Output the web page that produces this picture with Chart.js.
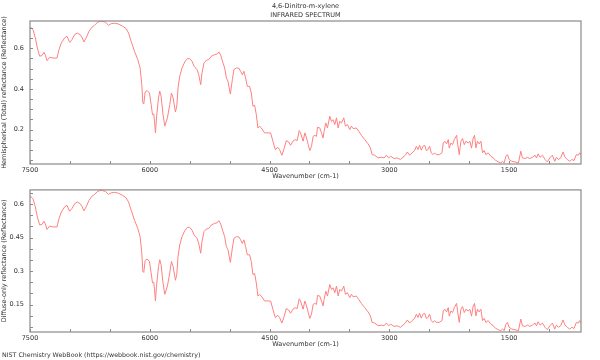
<!DOCTYPE html>
<html>
<head>
<meta charset="utf-8">
<script src="https://cdn.jsdelivr.net/npm/chart.js@4.4.1/dist/chart.umd.min.js"></script>
<style>
  html, body { margin: 0; padding: 0; background: #fff; }
  #wrap { position: relative; width: 600px; height: 360px; font-family: "DejaVu Sans", sans-serif; color: #333; }
  .box { position: absolute; left: 0; width: 600px; height: 180px; }
  .txt { position: absolute; font-size: 6.3px; line-height: 9px; white-space: nowrap; }
</style>
</head>
<body>
<div id="wrap">
  <div class="box" style="top:0"><canvas id="top-chart" width="600" height="180"></canvas></div>
  <div class="box" style="top:180px"><canvas id="bottom-chart" width="600" height="180"></canvas></div>
  <div class="txt" style="left:2px;top:350px;">NIST Chemistry WebBook (https://webbook.nist.gov/chemistry)</div>
</div>
<script>
// --- Data ---
const wavenumbers = [
  7500, 7490, 7462, 7433, 7408, 7379, 7350, 7325, 7308, 7287, 7254, 7212, 7162, 7137, 7108, 7066, 7037, 7004, 6975, 6941,
  6909, 6871, 6846, 6825, 6796, 6762, 6725, 6691, 6650, 6608, 6558, 6516, 6483, 6441, 6391, 6337, 6296, 6266, 6233, 6191,
  6150, 6121, 6100, 6087, 6075, 6058, 6033, 6004, 5983, 5966, 5950, 5941, 5929, 5916, 5891, 5875, 5858, 5837, 5812, 5779,
  5750, 5729, 5708, 5679, 5662, 5646, 5625, 5596, 5562, 5529, 5500, 5471, 5446, 5408, 5387, 5362, 5346, 5321, 5291, 5262,
  5229, 5187, 5154, 5134, 5112, 5083, 5062, 5041, 5021, 4991, 4966, 4946, 4916, 4887, 4862, 4841, 4821, 4800, 4779, 4750,
  4729, 4708, 4687, 4666, 4646, 4625, 4604, 4562, 4521, 4487, 4458, 4429, 4396, 4375, 4346, 4321, 4291, 4262, 4237, 4208,
  4179, 4154, 4129, 4112, 4080, 4058, 4037, 4016, 3996, 3975, 3954, 3933, 3912, 3900, 3871, 3850, 3829, 3817, 3796, 3775,
  3746, 3725, 3704, 3683, 3662, 3641, 3621, 3600, 3571, 3550, 3525, 3496, 3475, 3454, 3412, 3383, 3350, 3308, 3266, 3237,
  3216, 3183, 3141, 3100, 3066, 3037, 3008, 2983, 2941, 2900, 2862, 2829, 2800, 2775, 2746, 2716, 2683, 2662, 2641, 2621,
  2600, 2579, 2558, 2537, 2516, 2496, 2475, 2454, 2433, 2412, 2375, 2341, 2325, 2304, 2283, 2262, 2250, 2229, 2208, 2187,
  2158, 2146, 2125, 2104, 2083, 2062, 2041, 2012, 1991, 1971, 1950, 1933, 1916, 1896, 1875, 1854, 1833, 1812, 1791, 1762,
  1729, 1700, 1666, 1633, 1604, 1583, 1562, 1541, 1521, 1500, 1466, 1425, 1383, 1354, 1333, 1300, 1271, 1241, 1208, 1175,
  1158, 1137, 1112, 1083, 1050, 1021, 991, 958, 929, 908, 883, 854, 825, 800, 771, 741, 716, 687, 658, 633,
  616, 600
];

// Hemispherical (total) reflectance
const totalRefl = [
  0.700, 0.703, 0.691, 0.651, 0.601, 0.561, 0.564, 0.580, 0.566, 0.539, 0.556, 0.552, 0.552, 0.593, 0.626, 0.651, 0.659, 0.629, 0.642, 0.667,
  0.675, 0.667, 0.651, 0.631, 0.651, 0.683, 0.703, 0.713, 0.729, 0.733, 0.729, 0.713, 0.721, 0.723, 0.719, 0.708, 0.696, 0.675, 0.634, 0.585,
  0.544, 0.503, 0.421, 0.331, 0.326, 0.385, 0.392, 0.380, 0.323, 0.274, 0.277, 0.241, 0.184, 0.257, 0.356, 0.389, 0.364, 0.282, 0.217, 0.258,
  0.323, 0.380, 0.356, 0.287, 0.315, 0.405, 0.462, 0.503, 0.533, 0.549, 0.549, 0.536, 0.512, 0.495, 0.470, 0.421, 0.479, 0.528, 0.541, 0.544,
  0.561, 0.569, 0.572, 0.582, 0.566, 0.528, 0.503, 0.454, 0.438, 0.375, 0.446, 0.495, 0.503, 0.503, 0.487, 0.470, 0.487, 0.454, 0.413, 0.413,
  0.380, 0.315, 0.320, 0.274, 0.208, 0.217, 0.208, 0.184, 0.184, 0.184, 0.143, 0.102, 0.113, 0.102, 0.074, 0.102, 0.146, 0.140, 0.123, 0.143,
  0.151, 0.146, 0.195, 0.184, 0.143, 0.184, 0.159, 0.126, 0.097, 0.118, 0.167, 0.172, 0.167, 0.212, 0.208, 0.184, 0.159, 0.192, 0.233, 0.208,
  0.266, 0.241, 0.249, 0.225, 0.258, 0.208, 0.241, 0.233, 0.258, 0.217, 0.225, 0.200, 0.217, 0.205, 0.208, 0.192, 0.172, 0.151, 0.130, 0.110,
  0.077, 0.074, 0.061, 0.064, 0.061, 0.074, 0.061, 0.069, 0.058, 0.061, 0.053, 0.064, 0.074, 0.090, 0.074, 0.086, 0.097, 0.118, 0.102, 0.123,
  0.099, 0.118, 0.123, 0.097, 0.102, 0.118, 0.086, 0.077, 0.086, 0.077, 0.077, 0.086, 0.134, 0.143, 0.130, 0.151, 0.109, 0.134, 0.126, 0.151,
  0.172, 0.134, 0.077, 0.143, 0.156, 0.126, 0.143, 0.134, 0.143, 0.109, 0.159, 0.172, 0.110, 0.143, 0.130, 0.143, 0.086, 0.097, 0.077, 0.086,
  0.069, 0.061, 0.048, 0.041, 0.036, 0.044, 0.036, 0.069, 0.077, 0.053, 0.044, 0.041, 0.036, 0.094, 0.061, 0.058, 0.064, 0.058, 0.064, 0.074,
  0.061, 0.081, 0.064, 0.074, 0.053, 0.041, 0.061, 0.074, 0.044, 0.064, 0.053, 0.061, 0.090, 0.064, 0.053, 0.044, 0.053, 0.048, 0.077, 0.074,
  0.086, 0.075
];

// Diffuse-only reflectance
const diffuseRefl = [
  0.632, 0.635, 0.624, 0.588, 0.543, 0.507, 0.509, 0.524, 0.511, 0.487, 0.502, 0.498, 0.498, 0.535, 0.565, 0.588, 0.595, 0.568, 0.580, 0.602,
  0.610, 0.602, 0.588, 0.570, 0.588, 0.617, 0.635, 0.644, 0.658, 0.662, 0.658, 0.644, 0.651, 0.653, 0.649, 0.639, 0.628, 0.610, 0.573, 0.528,
  0.491, 0.454, 0.380, 0.299, 0.294, 0.348, 0.354, 0.343, 0.292, 0.247, 0.250, 0.218, 0.166, 0.232, 0.321, 0.351, 0.329, 0.255, 0.196, 0.233,
  0.292, 0.343, 0.321, 0.259, 0.284, 0.366, 0.417, 0.454, 0.481, 0.496, 0.496, 0.484, 0.462, 0.447, 0.424, 0.380, 0.433, 0.477, 0.489, 0.491,
  0.507, 0.514, 0.517, 0.526, 0.511, 0.477, 0.454, 0.410, 0.396, 0.339, 0.403, 0.447, 0.454, 0.454, 0.440, 0.424, 0.440, 0.410, 0.373, 0.373,
  0.343, 0.284, 0.289, 0.247, 0.188, 0.196, 0.188, 0.166, 0.166, 0.166, 0.129, 0.092, 0.102, 0.092, 0.067, 0.092, 0.132, 0.126, 0.111, 0.129,
  0.136, 0.132, 0.176, 0.166, 0.129, 0.166, 0.144, 0.114, 0.088, 0.107, 0.151, 0.155, 0.151, 0.191, 0.188, 0.166, 0.144, 0.173, 0.210, 0.188,
  0.240, 0.218, 0.225, 0.203, 0.233, 0.188, 0.218, 0.210, 0.233, 0.196, 0.203, 0.181, 0.196, 0.185, 0.188, 0.173, 0.155, 0.136, 0.117, 0.099,
  0.070, 0.067, 0.055, 0.058, 0.055, 0.067, 0.055, 0.062, 0.052, 0.055, 0.048, 0.058, 0.067, 0.081, 0.067, 0.078, 0.088, 0.107, 0.092, 0.111,
  0.089, 0.107, 0.111, 0.088, 0.092, 0.107, 0.078, 0.070, 0.078, 0.070, 0.070, 0.078, 0.121, 0.129, 0.117, 0.136, 0.098, 0.121, 0.114, 0.136,
  0.155, 0.121, 0.070, 0.129, 0.141, 0.114, 0.129, 0.121, 0.129, 0.098, 0.144, 0.155, 0.099, 0.129, 0.117, 0.129, 0.078, 0.088, 0.070, 0.078,
  0.062, 0.055, 0.043, 0.037, 0.033, 0.040, 0.033, 0.062, 0.070, 0.048, 0.040, 0.037, 0.033, 0.085, 0.055, 0.052, 0.058, 0.052, 0.058, 0.067,
  0.055, 0.073, 0.058, 0.067, 0.048, 0.037, 0.055, 0.067, 0.040, 0.058, 0.048, 0.055, 0.081, 0.058, 0.048, 0.040, 0.048, 0.043, 0.070, 0.067,
  0.078, 0.068
];

// Axis ticks
const xTicks = [7500, 7000, 6500, 6000, 5500, 5000, 4500, 4000, 3500, 3000, 2500, 2000, 1500, 1000];
const xLabels = [7500, 6000, 4500, 3000, 1500];
const yTicksTop = [0.05, 0.1, 0.15, 0.2, 0.25, 0.3, 0.35, 0.4, 0.45, 0.5, 0.55, 0.6, 0.65, 0.7];
const yLabelsTop = [0.2, 0.4, 0.6];
const yTicksBottom = [0.05, 0.1, 0.15, 0.2, 0.25, 0.3, 0.35, 0.4, 0.45, 0.5, 0.55, 0.6, 0.65];
const yLabelsBottom = [0.15, 0.3, 0.45, 0.6];
const titleLines = ['4,6-Dinitro-m-xylene', 'INFRARED SPECTRUM'];

const lineColor = '#ff8080';
const frameColor = '#8a8a8a';
const textColor = '#333';
const font = { family: 'DejaVu Sans', size: 6.5 };

// Frame + inward tick marks
const framePlugin = {
  id: 'frame',
  afterDraw(chart) {
    const { ctx, chartArea: a, scales } = chart;
    ctx.save();
    ctx.strokeStyle = frameColor;
    ctx.lineWidth = 1;
    ctx.beginPath();
    scales.x.ticks.forEach(t => {
      const px = Math.round(scales.x.getPixelForValue(t.value)) + 0.5;
      ctx.moveTo(px, a.bottom);
      ctx.lineTo(px, a.bottom - 3);
    });
    scales.y.ticks.forEach(t => {
      const py = Math.round(scales.y.getPixelForValue(t.value)) + 0.5;
      ctx.moveTo(a.left, py);
      ctx.lineTo(a.left + 3, py);
    });
    ctx.stroke();
    ctx.lineWidth = 1.2;
    ctx.strokeRect(a.left, a.top, a.right - a.left, a.bottom - a.top);
    ctx.restore();
  }
};

function isIn(list, v) {
  return list.some(l => Math.abs(l - v) < 1e-6);
}

function makeChart(canvasId, values, yMin, yMax, yTicks, yLabels, yTitle, padding, title) {
  const points = wavenumbers.map((w, i) => ({ x: w, y: values[i] }));
  return new Chart(document.getElementById(canvasId), {
    type: 'line',
    data: {
      datasets: [{
        data: points,
        borderColor: lineColor,
        borderWidth: 1,
        pointRadius: 0,
        tension: 0,
        fill: false
      }]
    },
    options: {
      responsive: false,
      animation: false,
      events: [],
      layout: { padding: padding },
      plugins: {
        legend: { display: false },
        tooltip: { enabled: false },
        title: {
          display: !!title,
          text: title,
          fullSize: false,
          color: textColor,
          font: { family: 'DejaVu Sans', size: 6.5, weight: 'normal', lineHeight: 1.385 },
          padding: { top: 2, bottom: 1 }
        }
      },
      scales: {
        x: {
          type: 'linear',
          reverse: true,
          min: 600,
          max: 7500,
          afterBuildTicks: s => { s.ticks = xTicks.map(v => ({ value: v })); },
          afterFit: s => { s.height = 16; },
          grid: { display: false, drawTicks: false },
          border: { display: false },
          ticks: {
            autoSkip: false,
            maxRotation: 0,
            padding: 2,
            color: textColor,
            font: font,
            callback: v => isIn(xLabels, v) ? String(v) : ''
          },
          title: { display: true, text: 'Wavenumber (cm-1)', color: textColor, font: font, padding: 0 }
        },
        y: {
          min: yMin,
          max: yMax,
          afterBuildTicks: s => { s.ticks = yTicks.map(v => ({ value: v })); },
          afterFit: s => { s.width = 30; },
          grid: { display: false, drawTicks: false },
          border: { display: false },
          ticks: {
            autoSkip: false,
            padding: 6,
            color: textColor,
            font: font,
            callback: v => isIn(yLabels, v) ? String(+v.toFixed(2)) : ''
          },
          title: { display: true, text: yTitle, color: textColor, font: font, padding: 0 }
        }
      }
    },
    plugins: [framePlugin]
  });
}

makeChart('top-chart', totalRefl, 0.031, 0.734, yTicksTop, yLabelsTop,
  'Hemispherical (Total) reflectance (Reflectance)', { top: 0, right: 19, bottom: 0, left: 0 }, titleLines);
makeChart('bottom-chart', diffuseRefl, 0.027, 0.664, yTicksBottom, yLabelsBottom,
  'Diffuse-only reflectance (Reflectance)', { top: 9, right: 19, bottom: 12, left: 0 }, null);
</script>
</body>
</html>
